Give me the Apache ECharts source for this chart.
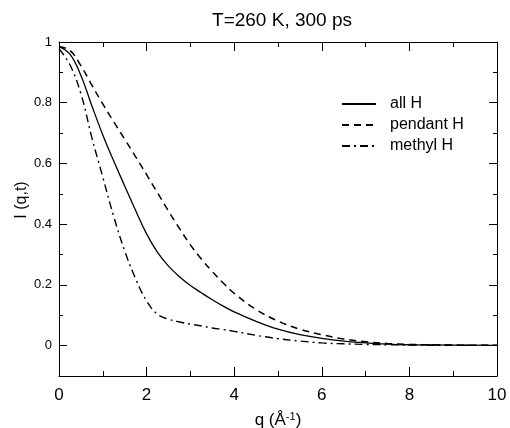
<!DOCTYPE html>
<html>
<head>
<meta charset="utf-8">
<script src="https://cdn.jsdelivr.net/npm/echarts@6/dist/echarts.min.js"></script>
<style>html,body{margin:0;padding:0;background:#fff}#c{width:510px;height:428px}</style>
</head>
<body>
<div id="c"></div>
<script>
// q values (Å^-1)
var qValues = [0, 0.25, 0.5, 0.75, 1.0, 1.25, 1.5, 1.75, 2.0, 2.25, 2.5, 2.75, 3.0, 3.25, 3.5, 3.75, 4.0, 4.5, 5.0, 5.5, 6.0, 6.5, 7.0, 7.5, 8.0, 9.0, 10.0];
var allH     = [0.985, 0.960, 0.890, 0.790, 0.694, 0.608, 0.526, 0.445, 0.368, 0.307, 0.262, 0.227, 0.198, 0.174, 0.151, 0.130, 0.111, 0.080, 0.054, 0.036, 0.024, 0.015, 0.009, 0.005, 0.003, 0.002, 0.001];
var pendantH = [0.985, 0.972, 0.922, 0.858, 0.796, 0.737, 0.680, 0.622, 0.563, 0.503, 0.443, 0.386, 0.332, 0.285, 0.244, 0.206, 0.172, 0.119, 0.081, 0.054, 0.036, 0.022, 0.013, 0.007, 0.004, 0.002, 0.001];
var methylH  = [0.978, 0.925, 0.830, 0.685, 0.555, 0.425, 0.312, 0.220, 0.147, 0.103, 0.087, 0.078, 0.071, 0.065, 0.058, 0.053, 0.047, 0.034, 0.023, 0.015, 0.009, 0.006, 0.004, 0.003, 0.002, 0.001, 0.001];
var seriesNames = ['all H', 'pendant H', 'methyl H'];
var yMajorTicks = [0, 0.2, 0.4, 0.6, 0.8, 1];
var yMinorTicks = [0.1, 0.3, 0.5, 0.7, 0.9];
var titleText = 'T=260 K, 300 ps';

function pairs(ys) { return qValues.map(function (q, i) { return [q, ys[i]]; }); }

var font = 'Liberation Sans, Arial, Helvetica, sans-serif';
var black = '#000';

function yAxisDef(pos, ticks, len, showLabel, showLine, name) {
  return {
    type: 'value', position: pos, min: -0.1, max: 1,
    axisLine: { show: showLine, onZero: false, lineStyle: { color: black, width: 1 } },
    axisTick: { show: true, inside: true, length: len, customValues: ticks, lineStyle: { color: black, width: 1 } },
    axisLabel: { show: showLabel, customValues: ticks, color: black, fontSize: 13, fontFamily: font, margin: 7,
      formatter: function (v) { return String(Math.round(v * 10) / 10); } },
    splitLine: { show: false },
    name: name || '', nameLocation: 'middle', nameGap: 29, nameRotate: 90, nameMoveOverlap: false,
    nameTextStyle: { color: black, fontSize: 16, fontFamily: font, padding: [0, 0, 0, 18] }
  };
}

function xAxisDef(pos, showLabel, name) {
  return {
    type: 'value', position: pos, min: 0, max: 10, interval: 2,
    axisLine: { show: true, onZero: false, lineStyle: { color: black, width: 1 } },
    axisTick: { show: true, inside: true, length: 9, lineStyle: { color: black, width: 1 } },
    minorTick: { show: true, splitNumber: 2, length: 5, lineStyle: { color: black, width: 1 } },
    axisLabel: { show: showLabel, color: black, fontSize: 17, fontFamily: font, margin: 11 },
    splitLine: { show: false }, minorSplitLine: { show: false },
    name: name || '', nameLocation: 'middle', nameGap: 35, nameMoveOverlap: false,
    nameTextStyle: { color: black, fontSize: 17, fontFamily: font,
      rich: { sup: { fontSize: 11, verticalAlign: 'top', padding: [0, 0, 8, 0], color: black, fontFamily: font } } }
  };
}

function lineSeries(i, ys, width, type) {
  return { name: seriesNames[i], type: 'line', data: pairs(ys), smooth: 0.4, showSymbol: false, symbol: 'none',
    lineStyle: { color: black, width: width, type: type }, itemStyle: { color: black } };
}

var chart = echarts.init(document.getElementById('c'), null, { renderer: 'canvas' });
chart.setOption({
  backgroundColor: '#fff',
  animation: false,
  title: { text: titleText, left: 277, textAlign: 'center', top: 6,
    textStyle: { color: black, fontSize: 19, fontWeight: 'normal', fontFamily: font } },
  grid: { left: 59, right: 13, top: 42, bottom: 52, containLabel: false, outerBoundsMode: 'none' },
  legend: {
    orient: 'vertical', left: 336, top: 91, itemWidth: 34, itemHeight: 14, itemGap: 5,
    data: seriesNames,
    itemStyle: { opacity: 0 },
    textStyle: { color: black, fontSize: 16, fontFamily: font, padding: [0, 0, 0, 9] }
  },
  xAxis: [xAxisDef('bottom', true, 'q (Å{sup|-1})'), xAxisDef('top', false)],
  yAxis: [
    yAxisDef('left', yMajorTicks, 8, true, true, 'I (q,t)'),
    yAxisDef('left', yMinorTicks, 4, false, false),
    yAxisDef('right', yMajorTicks, 8, false, true),
    yAxisDef('right', yMinorTicks, 4, false, false)
  ],
  series: [
    lineSeries(0, allH, 1.3, 'solid'),
    lineSeries(1, pendantH, 1.5, [7, 5]),
    lineSeries(2, methylH, 1.4, [8, 4, 2, 4])
  ]
});
</script>
</body>
</html>
